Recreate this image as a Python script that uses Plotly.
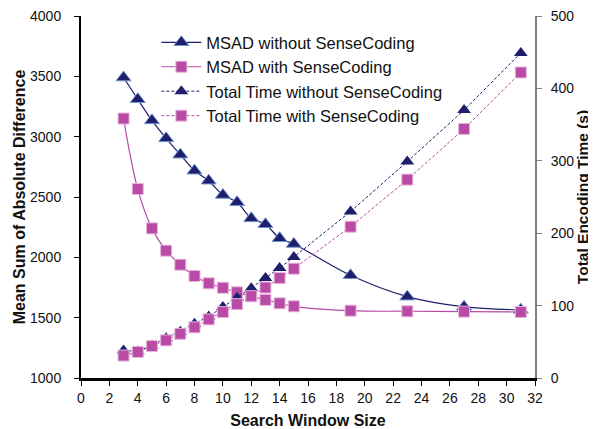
import plotly.graph_objects as go

window = [3, 4, 5, 6, 7, 8, 9, 10, 11, 12, 13, 14, 15, 19, 23, 27, 31]
msad_without = [3490, 3310, 3135, 2986, 2851, 2718, 2635, 2517, 2456, 2323, 2274, 2158, 2111, 1851, 1674, 1590, 1565]
msad_with = [3150, 2566, 2240, 2055, 1939, 1845, 1785, 1748, 1710, 1677, 1647, 1619, 1594, 1558, 1553, 1550, 1547]
time_without = [38, 37, 45, 55, 64, 75, 85, 98, 111, 124, 138, 152, 167, 230, 299, 370, 449]
time_with = [31, 36, 44, 52, 61, 70, 81, 91, 102, 113, 125, 138, 151, 209, 274, 344, 422]

NAVY = "#1E1E6C"
MAG = "#B84BA6"
FONT = "Liberation Sans, Arial, sans-serif"

fig = go.Figure()
fig.add_trace(go.Scatter(
    x=window, y=time_without, name="Total Time without SenseCoding", yaxis="y2",
    mode="lines+markers", line=dict(color=NAVY, width=1, dash="3px,2px"),
    marker=dict(symbol="triangle-up", size=12, color=NAVY), legendrank=3))
fig.add_trace(go.Scatter(
    x=window, y=time_with, name="Total Time with SenseCoding", yaxis="y2",
    mode="lines+markers", line=dict(color=MAG, width=1, dash="3px,2px"),
    marker=dict(symbol="square", size=11, color=MAG, line=dict(color="#E8B4DC", width=1)), legendrank=4))
fig.add_trace(go.Scatter(
    x=window, y=msad_without, name="MSAD without SenseCoding",
    mode="lines+markers", line=dict(color=NAVY, width=1.2, shape="spline"),
    marker=dict(symbol="triangle-up", size=13, color=NAVY, line=dict(color="#6F95CF", width=1)), legendrank=1))
fig.add_trace(go.Scatter(
    x=window, y=msad_with, name="MSAD with SenseCoding",
    mode="lines+markers", line=dict(color=MAG, width=1.2, shape="spline"),
    marker=dict(symbol="square", size=11, color=MAG, line=dict(color="#E8B4DC", width=1)), legendrank=2))

# The page body has an 8px margin, so the figure is drawn at (8, 8)
fig.update_layout(
    width=588, height=421,
    margin=dict(l=73, r=61, t=8, b=51, autoexpand=False),
    plot_bgcolor="white", paper_bgcolor="white",
    font=dict(family=FONT, size=14, color="#111111"),
    showlegend=True,
    legend=dict(x=0.166, y=0.975, xanchor="left", yanchor="top",
                bgcolor="rgba(255,255,255,0)", font=dict(size=16.5, family=FONT),
                tracegroupgap=0, itemwidth=40),
    xaxis=dict(range=[0, 32], dtick=2, tick0=0, showgrid=False, zeroline=False,
               showline=True, linecolor="black", linewidth=3, ticks="outside",
               ticklen=5, tickcolor="black", mirror=False, automargin=False,
               ticklabeloverflow="allow",
               title=dict(text="<b>Search Window Size</b>", font=dict(size=16), standoff=12)),
    yaxis=dict(range=[1000, 4000], dtick=500, showgrid=False, zeroline=False,
               showline=True, linecolor="black", linewidth=2, ticks="outside",
               ticklen=5, tickcolor="black", automargin=False, ticklabelstandoff=10,
               ticklabeloverflow="allow",
               title=dict(text="<b>Mean Sum of Absolute Difference</b>", font=dict(size=16), standoff=0)),
    yaxis2=dict(range=[0, 500], dtick=100, overlaying="y", side="right", showgrid=False,
                zeroline=False, showline=True, linecolor="#808080", linewidth=2,
                ticks="outside", ticklen=5, tickcolor="#808080", automargin=False,
                ticklabelstandoff=6, ticklabeloverflow="allow",
                title=dict(text="<b>Total Encoding Time (s)</b>", font=dict(size=15.5), standoff=3)),
)

fig.write_html("out.html")
